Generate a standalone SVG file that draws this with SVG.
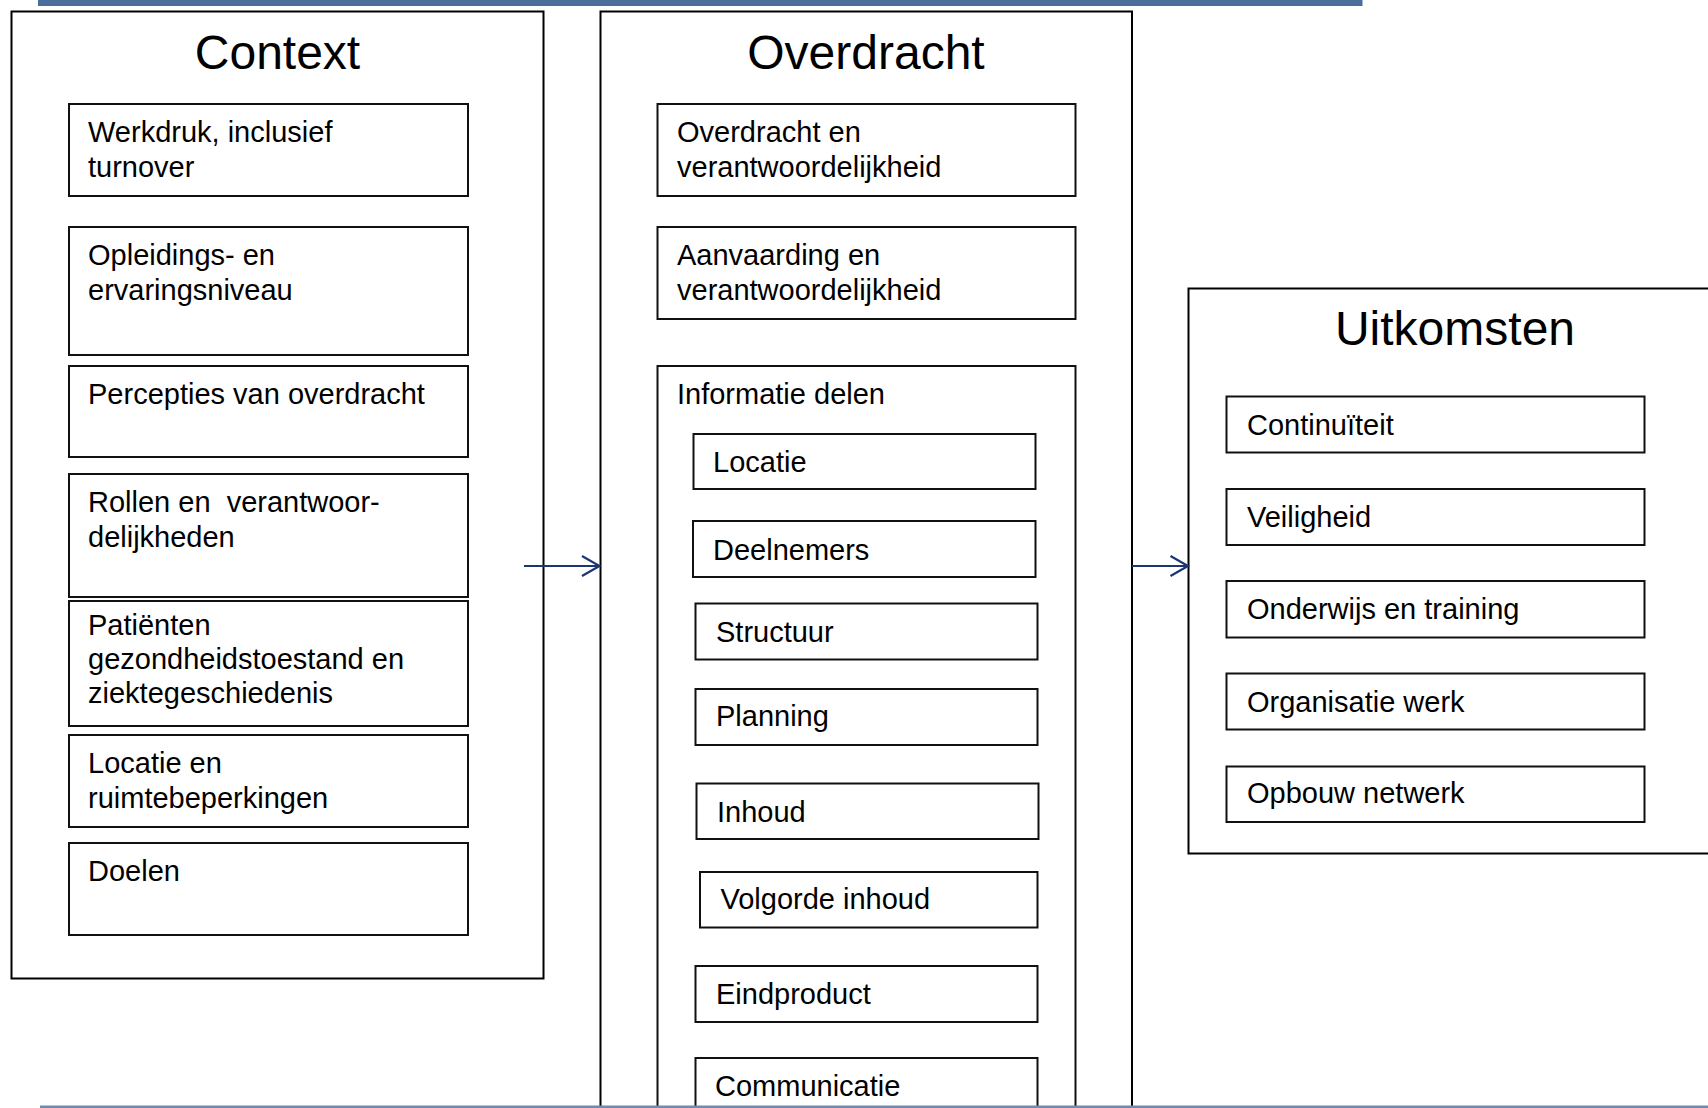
<svg xmlns="http://www.w3.org/2000/svg" width="1708" height="1108" viewBox="0 0 1708 1108">
<defs>
<style>
.outer{fill:none;stroke:#000;stroke-width:2}
.box{fill:#fff;stroke:#111;stroke-width:2}
.t{font-family:"Liberation Sans",Arial,sans-serif;font-size:29px;fill:#000}
.title{font-family:"Liberation Sans",Arial,sans-serif;font-size:48px;fill:#000;text-anchor:middle}
.conn{fill:none;stroke:#1c3575;stroke-width:2.2}
</style>
<marker id="arr" markerUnits="userSpaceOnUse" markerWidth="24" markerHeight="26" refX="20" refY="12" orient="auto" overflow="visible">
<path d="M2.5 2 L20 12 L2.5 22" fill="none" stroke="#1c3575" stroke-width="2.2"/>
</marker>
</defs>
<rect width="1708" height="1108" fill="#fff"/>
<rect x="38" y="0" width="1324.5" height="6" fill="#4b6d9b"/>

<g id="context">
<rect class="outer" x="11.5" y="11.5" width="532" height="967"/>
<text class="title" x="277.5" y="69">Context</text>
<g id="c-werkdruk"><rect class="box" x="69" y="104" width="399" height="92"/><text class="t" x="88" y="142">Werkdruk, inclusief</text><text class="t" x="88" y="177">turnover</text></g>
<g id="c-opleidings"><rect class="box" x="69" y="227" width="399" height="128"/><text class="t" x="88" y="265">Opleidings- en</text><text class="t" x="88" y="300">ervaringsniveau</text></g>
<g id="c-percepties"><rect class="box" x="69" y="366" width="399" height="91"/><text class="t" x="88" y="404">Percepties van overdracht</text></g>
<g id="c-rollen"><rect class="box" x="69" y="474" width="399" height="123"/><text class="t" x="88" y="512" style="white-space:pre">Rollen en  verantwoor-</text><text class="t" x="88" y="547">delijkheden</text></g>
<g id="c-patienten"><rect class="box" x="69" y="601" width="399" height="125"/><text class="t" x="88" y="635">Patiënten</text><text class="t" x="88" y="669">gezondheidstoestand en</text><text class="t" x="88" y="703">ziektegeschiedenis</text></g>
<g id="c-locatie"><rect class="box" x="69" y="735" width="399" height="92"/><text class="t" x="88" y="773">Locatie en</text><text class="t" x="88" y="808">ruimtebeperkingen</text></g>
<g id="c-doelen"><rect class="box" x="69" y="843" width="399" height="92"/><text class="t" x="88" y="881">Doelen</text></g>
</g>

<g id="overdracht">
<rect class="outer" x="600.5" y="11.5" width="531.5" height="1120"/>
<text class="title" x="866" y="69">Overdracht</text>
<g id="o-overdracht"><rect class="box" x="657.5" y="104" width="418" height="92"/><text class="t" x="677" y="142">Overdracht en</text><text class="t" x="677" y="177">verantwoordelijkheid</text></g>
<g id="o-aanvaarding"><rect class="box" x="657.5" y="227" width="418" height="92"/><text class="t" x="677" y="265">Aanvaarding en</text><text class="t" x="677" y="300">verantwoordelijkheid</text></g>
<g id="o-informatie">
<rect class="box" x="657.5" y="366" width="418" height="760"/>
<text class="t" x="677" y="404">Informatie delen</text>
<g id="i-locatie"><rect class="box" x="693.5" y="434" width="342" height="55"/><text class="t" x="713" y="472">Locatie</text></g>
<g id="i-deelnemers"><rect class="box" x="693" y="521" width="342.5" height="56"/><text class="t" x="713" y="560">Deelnemers</text></g>
<g id="i-structuur"><rect class="box" x="695.5" y="603.5" width="342" height="56"/><text class="t" x="716" y="642">Structuur</text></g>
<g id="i-planning"><rect class="box" x="695.5" y="689" width="342" height="56"/><text class="t" x="716" y="726">Planning</text></g>
<g id="i-inhoud"><rect class="box" x="696.5" y="783.5" width="342" height="55.5"/><text class="t" x="717" y="822">Inhoud</text></g>
<g id="i-volgorde"><rect class="box" x="700" y="872" width="337.5" height="55.5"/><text class="t" x="720.5" y="909">Volgorde inhoud</text></g>
<g id="i-eindproduct"><rect class="box" x="695.5" y="966" width="342" height="56"/><text class="t" x="716" y="1004">Eindproduct</text></g>
<g id="i-communicatie"><rect class="box" x="695.5" y="1058" width="342" height="70"/><text class="t" x="715" y="1096">Communicatie</text></g>
</g>
</g>

<g id="uitkomsten">
<rect class="outer" x="1188.5" y="288.5" width="600" height="565"/>
<text class="title" x="1455" y="345">Uitkomsten</text>
<g id="u-continuiteit"><rect class="box" x="1226.5" y="396.5" width="418" height="56"/><text class="t" x="1247" y="435">Continuïteit</text></g>
<g id="u-veiligheid"><rect class="box" x="1226.5" y="489" width="418" height="56"/><text class="t" x="1247" y="527">Veiligheid</text></g>
<g id="u-onderwijs"><rect class="box" x="1226.5" y="581" width="418" height="56.5"/><text class="t" x="1247" y="619">Onderwijs en training</text></g>
<g id="u-organisatie"><rect class="box" x="1226.5" y="673.5" width="418" height="56"/><text class="t" x="1247" y="712">Organisatie werk</text></g>
<g id="u-opbouw"><rect class="box" x="1226.5" y="766.5" width="418" height="55.5"/><text class="t" x="1247" y="803">Opbouw netwerk</text></g>
</g>

<rect x="40" y="1105.5" width="1668" height="2.5" fill="#6f8bb2"/>

<g id="connectors">
<line class="conn" x1="524" y1="566" x2="599.5" y2="566" marker-end="url(#arr)"/>
<line class="conn" x1="1132" y1="566" x2="1188" y2="566" marker-end="url(#arr)"/>
</g>
</svg>
